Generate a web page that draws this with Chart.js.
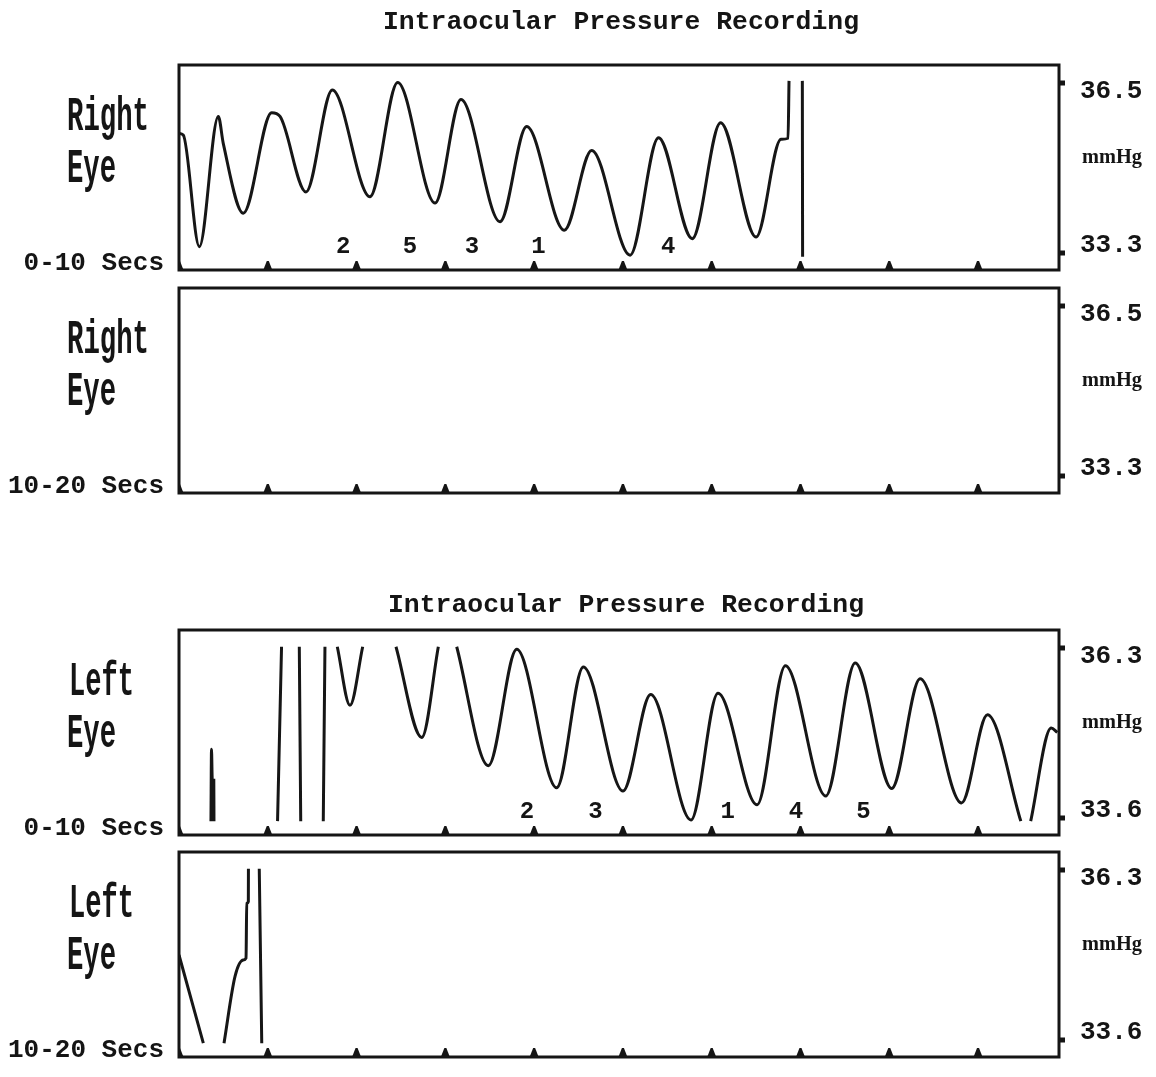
<!DOCTYPE html>
<html lang="en">
<head>
  <meta charset="UTF-8">
  <title>Intraocular Pressure Recording</title>
  <script src="https://cdn.jsdelivr.net/npm/chart.js@4.4.2/dist/chart.umd.min.js"></script>
  <style>
    body { margin: 0; background: #fff; }
    #page { position: relative; width: 1156px; height: 1077px; overflow: hidden; background: #fff; }
    #page canvas { position: absolute; left: 170px; }
    #labels { position: absolute; left: 0; top: 0; pointer-events: none; }
    .mono { font-family: "Liberation Mono", "Courier New", monospace; font-weight: bold; fill: #151515; }
    .serif { font-family: "Liberation Serif", "Times New Roman", serif; font-weight: bold; fill: #151515; }
  </style>
</head>
<body>
  <div id="page">
    <svg id="labels" width="1156" height="1077"></svg>
  </div>
  <script>
    // seconds marked by the little triangles on every trace
    const seconds = [0, 1, 2, 3, 4, 5, 6, 7, 8, 9];
    const rightEyeTicks = [36.5, 33.3];
    const leftEyeTicks = [36.3, 33.6];

    // Right eye, 0-10 secs (null = pen off the scale)
    const rightTime1 = [0.000, 0.048, 0.229, 0.443, 0.499, 0.724, 1.044, 1.138, 1.430, 1.727,
      2.151, 2.463, 2.884, 3.176, 3.616, 3.916, 4.340, 4.648, 5.081, 5.401,
      5.781, 6.100, 6.500, 6.781, 6.860, 6.871, 6.950, 7.021, 7.024];
    const rightPressure1 = [35.55, 35.52, 33.42, 35.87, 35.36, 34.05, 35.94, 35.87, 34.45, 36.37,
      34.36, 36.51, 34.24, 36.19, 33.89, 35.68, 33.73, 35.23, 33.26, 35.47,
      33.57, 35.75, 33.60, 35.44, 35.46, 36.54, null, 36.54, 33.23];
    const rightMarkLabels = ['2', '5', '3', '1', '4'];
    const rightMarkTimes = [1.85, 2.60, 3.30, 4.05, 5.51];

    // Right eye, 10-20 secs: nothing recorded
    const rightTime2 = [];
    const rightPressure2 = [];

    // Left eye, 0-10 secs
    const leftTime1 = [0.360, 0.366, 0.375, 0.392, 0.394, 0.700,
      1.110, 1.155, 1.250,
      1.355, 1.371, 1.500,
      1.625, 1.644, 1.700,
      1.783, 1.926, 2.069, 2.250,
      2.444, 2.734, 2.921, 3.000,
      3.128, 3.484, 3.804, 4.254, 4.554, 5.001, 5.313, 5.767, 6.071, 6.511,
      6.830, 7.285, 7.617, 8.028, 8.348, 8.814, 9.106, 9.482, 9.540,
      9.593, 9.824, 9.893];
    const leftPressure1 = [33.55, 34.69, 34.20, 34.20, 33.55, null,
      33.55, 36.32, null,
      36.32, 33.55, null,
      33.55, 36.32, null,
      36.32, 35.39, 36.32, null,
      36.32, 34.88, 36.32, null,
      36.32, 34.43, 36.28, 34.08, 36.00, 34.03, 35.56, 33.57, 35.58, 33.81,
      36.02, 33.95, 36.06, 34.07, 35.81, 33.84, 35.24, 33.55, null,
      33.55, 35.03, 34.96];
    const leftMarkLabels = ['2', '3', '1', '4', '5'];
    const leftMarkTimes = [3.92, 4.69, 6.18, 6.95, 7.71];

    // Left eye, 10-20 secs
    const leftTime2 = [0.000, 0.274, 0.390, 0.507, 0.631, 0.724, 0.755, 0.763, 0.781, 0.782, 0.850, 0.904, 0.932];
    const leftPressure2 = [34.95, 33.55, null, 33.55, 34.61, 34.87, 34.90, 35.77, 35.80, 36.32, null, 36.32, 33.55];

    const PANEL_W = 880, PANEL_H = 205, X_MAX = 9.912;

    const panels = [
      { top: 65, ticks: rightEyeTicks, time: rightTime1, pressure: rightPressure1,
        markLabels: rightMarkLabels, markTimes: rightMarkTimes, words: ['Right', 'Eye'], span: '0-10 Secs' },
      { top: 288, ticks: rightEyeTicks, time: rightTime2, pressure: rightPressure2,
        markLabels: [], markTimes: [], words: ['Right', 'Eye'], span: '10-20 Secs' },
      { top: 630, ticks: leftEyeTicks, time: leftTime1, pressure: leftPressure1,
        markLabels: leftMarkLabels, markTimes: leftMarkTimes, words: ['Left', 'Eye'], span: '0-10 Secs' },
      { top: 852, ticks: leftEyeTicks, time: leftTime2, pressure: leftPressure2,
        markLabels: [], markTimes: [], words: ['Left', 'Eye'], span: '10-20 Secs' }
    ];

    const titles = [
      { text: 'Intraocular Pressure Recording', x: 383, y: 29 },
      { text: 'Intraocular Pressure Recording', x: 388, y: 612 }
    ];

    // box, tick marks, second triangles and the numbered marks
    const framePlugin = {
      id: 'frame',
      afterDatasetsDraw(chart, args, opts) {
        const { ctx, chartArea: a } = chart;
        const x = chart.scales.x, y = chart.scales.y;
        ctx.save();
        ctx.strokeStyle = '#151515';
        ctx.fillStyle = '#151515';
        ctx.lineWidth = 3;
        ctx.strokeRect(a.left, a.top, a.right - a.left, a.bottom - a.top);
        opts.yTicks.forEach(v => {
          const py = y.getPixelForValue(v);
          ctx.fillRect(a.right, py - 2.5, 6, 5);
        });
        ctx.save();
        ctx.beginPath();
        ctx.rect(a.left, a.top, a.right - a.left, a.bottom - a.top + 2);
        ctx.clip();
        seconds.forEach(s => {
          const px = x.getPixelForValue(s);
          ctx.beginPath();
          ctx.moveTo(px - 4.5, a.bottom);
          ctx.lineTo(px - 1, a.bottom - 9);
          ctx.lineTo(px + 1, a.bottom - 9);
          ctx.lineTo(px + 4.5, a.bottom);
          ctx.closePath();
          ctx.fill();
        });
        ctx.restore();
        ctx.font = 'bold 24px "Liberation Mono", monospace';
        ctx.textAlign = 'center';
        ctx.textBaseline = 'alphabetic';
        const base = y.getPixelForValue(opts.yTicks[1]);
        opts.markLabels.forEach((lab, i) => {
          ctx.fillText(lab, x.getPixelForValue(opts.markTimes[i]), base);
        });
        ctx.restore();
      }
    };

    const page = document.getElementById('page');
    const svg = document.getElementById('labels');

    function addText(txt, x, y, cls, size, extra) {
      const t = document.createElementNS('http://www.w3.org/2000/svg', 'text');
      t.setAttribute('x', x);
      t.setAttribute('y', y);
      t.setAttribute('class', cls);
      t.setAttribute('font-size', size);
      Object.entries(extra || {}).forEach(([k, v]) => t.setAttribute(k, v));
      t.textContent = txt;
      svg.appendChild(t);
    }

    titles.forEach(t => addText(t.text, t.x, t.y, 'mono', 26, { textLength: 476, lengthAdjust: 'spacingAndGlyphs' }));

    panels.forEach(p => {
      const T = p.top;
      // condensed eye names
      addText(p.words[0], p.words[0] === 'Left' ? 69 : 67, T + 65, 'mono', 48,
        { textLength: p.words[0] === 'Left' ? 65 : 82, lengthAdjust: 'spacingAndGlyphs' });
      addText(p.words[1], 67, T + 116.5, 'mono', 48, { textLength: 49, lengthAdjust: 'spacingAndGlyphs' });
      addText(p.span, 164, T + 205, 'mono', 26, { 'text-anchor': 'end' });
      addText(p.ticks[0].toFixed(1), 1080, T + 33, 'mono', 26);
      addText('mmHg', 1082, T + 98, 'serif', 20, { textLength: 60, lengthAdjust: 'spacingAndGlyphs' });
      addText(p.ticks[1].toFixed(1), 1080, T + 186.5, 'mono', 26);

      const canvas = document.createElement('canvas');
      canvas.width = PANEL_W + 25;
      canvas.height = PANEL_H + 16;
      canvas.style.top = (T - 8) + 'px';
      page.insertBefore(canvas, svg);

      const per = (p.ticks[0] - p.ticks[1]) / (PANEL_H - 35);
      const points = p.time.map((t, i) => ({ x: t, y: p.pressure[i] }));

      new Chart(canvas, {
        type: 'line',
        data: {
          datasets: [{
            data: points,
            borderColor: '#161616',
            borderWidth: 3,
            pointRadius: 0,
            fill: false,
            spanGaps: false,
            cubicInterpolationMode: 'monotone'
          }]
        },
        options: {
          responsive: false,
          animation: false,
          devicePixelRatio: 1,
          layout: { padding: { left: 9, right: 16, top: 8, bottom: 8 } },
          scales: {
            x: { type: 'linear', display: false, min: 0, max: X_MAX },
            y: { display: false, min: p.ticks[1] - 17 * per, max: p.ticks[0] + 18 * per }
          },
          plugins: {
            legend: { display: false },
            tooltip: { enabled: false },
            frame: { yTicks: p.ticks, markLabels: p.markLabels, markTimes: p.markTimes }
          }
        },
        plugins: [framePlugin]
      });
    });
  </script>
</body>
</html>
